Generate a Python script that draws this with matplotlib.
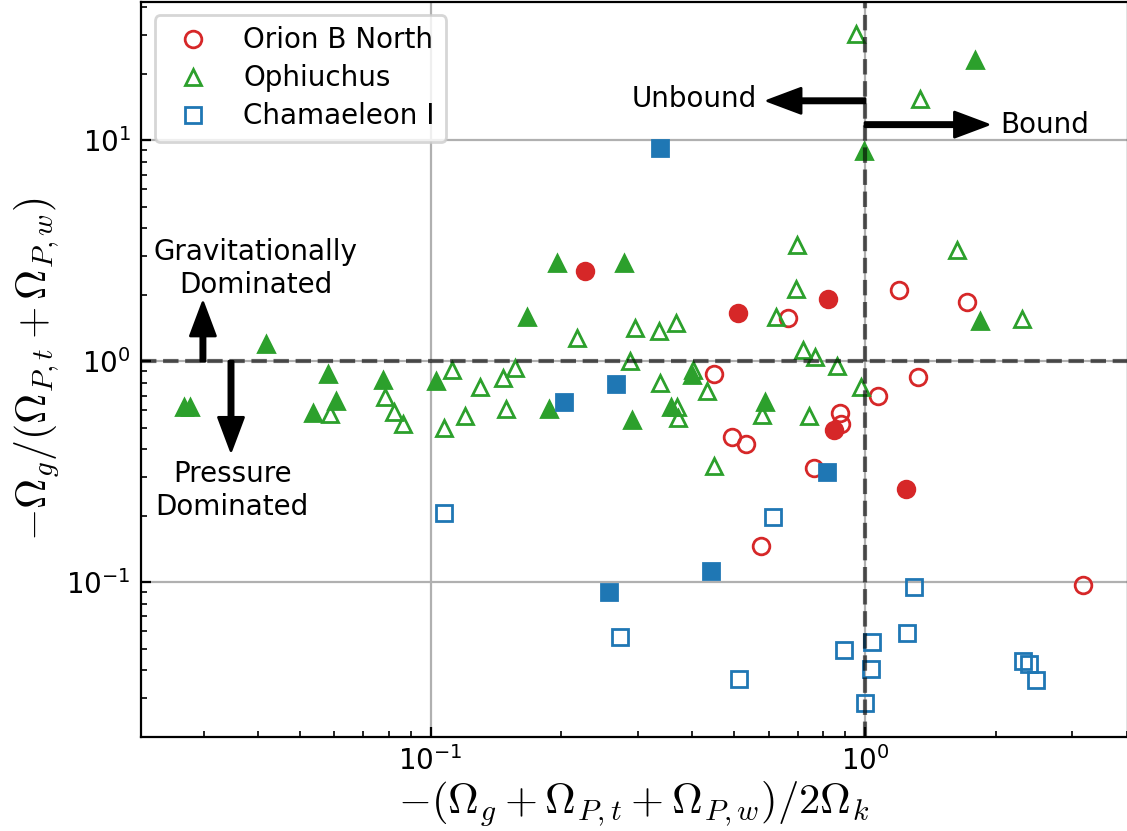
import numpy as np
import matplotlib
matplotlib.use('Agg')
import matplotlib.pyplot as plt

plt.rcParams['mathtext.fontset'] = 'cm'

# Orion B North
orion_open_x = [0.663, 1.200, 1.718, 1.321, 1.070, 0.449, 0.494, 0.532, 0.875, 0.880, 0.764, 0.576, 3.17]
orion_open_y = [1.565, 2.096, 1.849, 0.846, 0.694, 0.873, 0.456, 0.423, 0.582, 0.521, 0.329, 0.1455, 0.0973]
orion_fill_x = [0.227, 0.509, 0.821, 0.849, 1.243]
orion_fill_y = [2.565, 1.661, 1.916, 0.489, 0.263]

# Ophiuchus
oph_open_x = [0.952, 1.337, 0.698, 0.694, 0.623, 0.367, 0.335, 0.296, 0.2175, 1.627, 2.296, 0.718,
              0.766, 0.864, 0.978, 0.337, 0.432, 0.369, 0.371, 0.578, 0.743, 0.450, 0.402, 0.112,
              0.130, 0.147, 0.1565, 0.149, 0.1197, 0.1073, 0.287, 0.0784, 0.0823, 0.0865, 0.0586]
oph_open_y = [30.3, 15.39, 3.363, 2.127, 1.582, 1.486, 1.377, 1.416, 1.271, 3.19, 1.555, 1.121,
              1.043, 0.949, 0.763, 0.798, 0.732, 0.619, 0.552, 0.574, 0.568, 0.335, 0.914, 0.914,
              0.763, 0.841, 0.934, 0.609, 0.564, 0.4975, 1.007, 0.6875, 0.588, 0.521, 0.578]
oph_fill_x = [1.789, 0.994, 1.840, 0.1956, 0.2786, 0.1669, 0.0418, 0.1027, 0.1875, 0.291,
              0.058, 0.0605, 0.0537, 0.0778, 0.02705, 0.02793, 0.400, 0.357, 0.587]
oph_fill_y = [23.1, 8.98, 1.528, 2.797, 2.776, 1.582, 1.199, 0.818, 0.609, 0.545,
              0.877, 0.664, 0.582, 0.824, 0.619, 0.619, 0.868, 0.619, 0.652]

# Chamaeleon I
cha_open_x = [0.1071, 0.6145, 0.2728, 0.513, 0.895, 1.037, 1.030, 1.0005, 1.295, 1.246, 2.312, 2.386, 2.469]
cha_open_y = [0.206, 0.197, 0.0564, 0.0366, 0.0496, 0.0539, 0.0406, 0.0283, 0.0949, 0.0592, 0.0438, 0.0427, 0.0362]
cha_fill_x = [0.337, 0.2675, 0.203, 0.817, 0.443, 0.2573]
cha_fill_y = [9.24, 0.790, 0.655, 0.3146, 0.113, 0.0908]

fig = plt.figure(figsize=(1127/200, 831/200), dpi=200)
ax = fig.add_axes([140.7/1127, 1 - 736.7/831, (1127.5 - 140.7)/1127, (736.7 - 1.5)/831])

ax.plot(orion_open_x, orion_open_y, 'o', mfc='none', mec='C3', ls='none', label='Orion B North')
ax.plot(oph_open_x, oph_open_y, '^', mfc='none', mec='C2', ls='none', label='Ophiuchus')
ax.plot(cha_open_x, cha_open_y, 's', mfc='none', mec='C0', ls='none', label='Chamaeleon I')
ax.plot(orion_fill_x, orion_fill_y, 'o', color='C3', ls='none')
ax.plot(oph_fill_x, oph_fill_y, '^', color='C2', ls='none')
ax.plot(cha_fill_x, cha_fill_y, 's', color='C0', ls='none')

ax.axhline(1, color='k', ls='--', lw=1.5, alpha=0.6)
ax.axvline(1, color='k', ls='--', lw=1.5, alpha=0.6)

ax.set_xscale('log')
ax.set_yscale('log')
ax.set_xlim(0.0215, 4.02)
ax.set_ylim(0.02, 42.5)
ax.grid(True)
ax.tick_params(which='both', direction='in')

ap = dict(facecolor='black', edgecolor='black', width=1.5, headwidth=9, headlength=12, shrink=0)
ax.annotate('', xy=(0.597, 15.1), xytext=(1.0, 15.1), arrowprops=ap)
ax.text(0.5636, 15.4, 'Unbound', ha='right', va='center')
ax.annotate('', xy=(1.917, 11.78), xytext=(1.0, 11.78), arrowprops=ap)
ax.text(2.043, 11.78, 'Bound', ha='left', va='center')
ax.annotate('', xy=(0.0299, 1.843), xytext=(0.0299, 1.0), arrowprops=ap)
ax.text(0.0396, 2.627, 'Gravitationally\nDominated', ha='center', va='center', multialignment='center')
ax.annotate('', xy=(0.0347, 0.394), xytext=(0.0347, 1.0), arrowprops=ap)
ax.text(0.0349, 0.26, 'Pressure\nDominated', ha='center', va='center', multialignment='center')

ax.set_xlabel(r'$-(\Omega_g+\Omega_{P,t}+\Omega_{P,w})/2\Omega_k$', fontsize=15.3, labelpad=1)
ax.set_ylabel(r'$-\Omega_g/(\Omega_{P,t}+\Omega_{P,w})$', fontsize=15, labelpad=2)
ax.legend(loc='upper left', labelspacing=0.36)

fig.savefig('out.png', dpi=200)
